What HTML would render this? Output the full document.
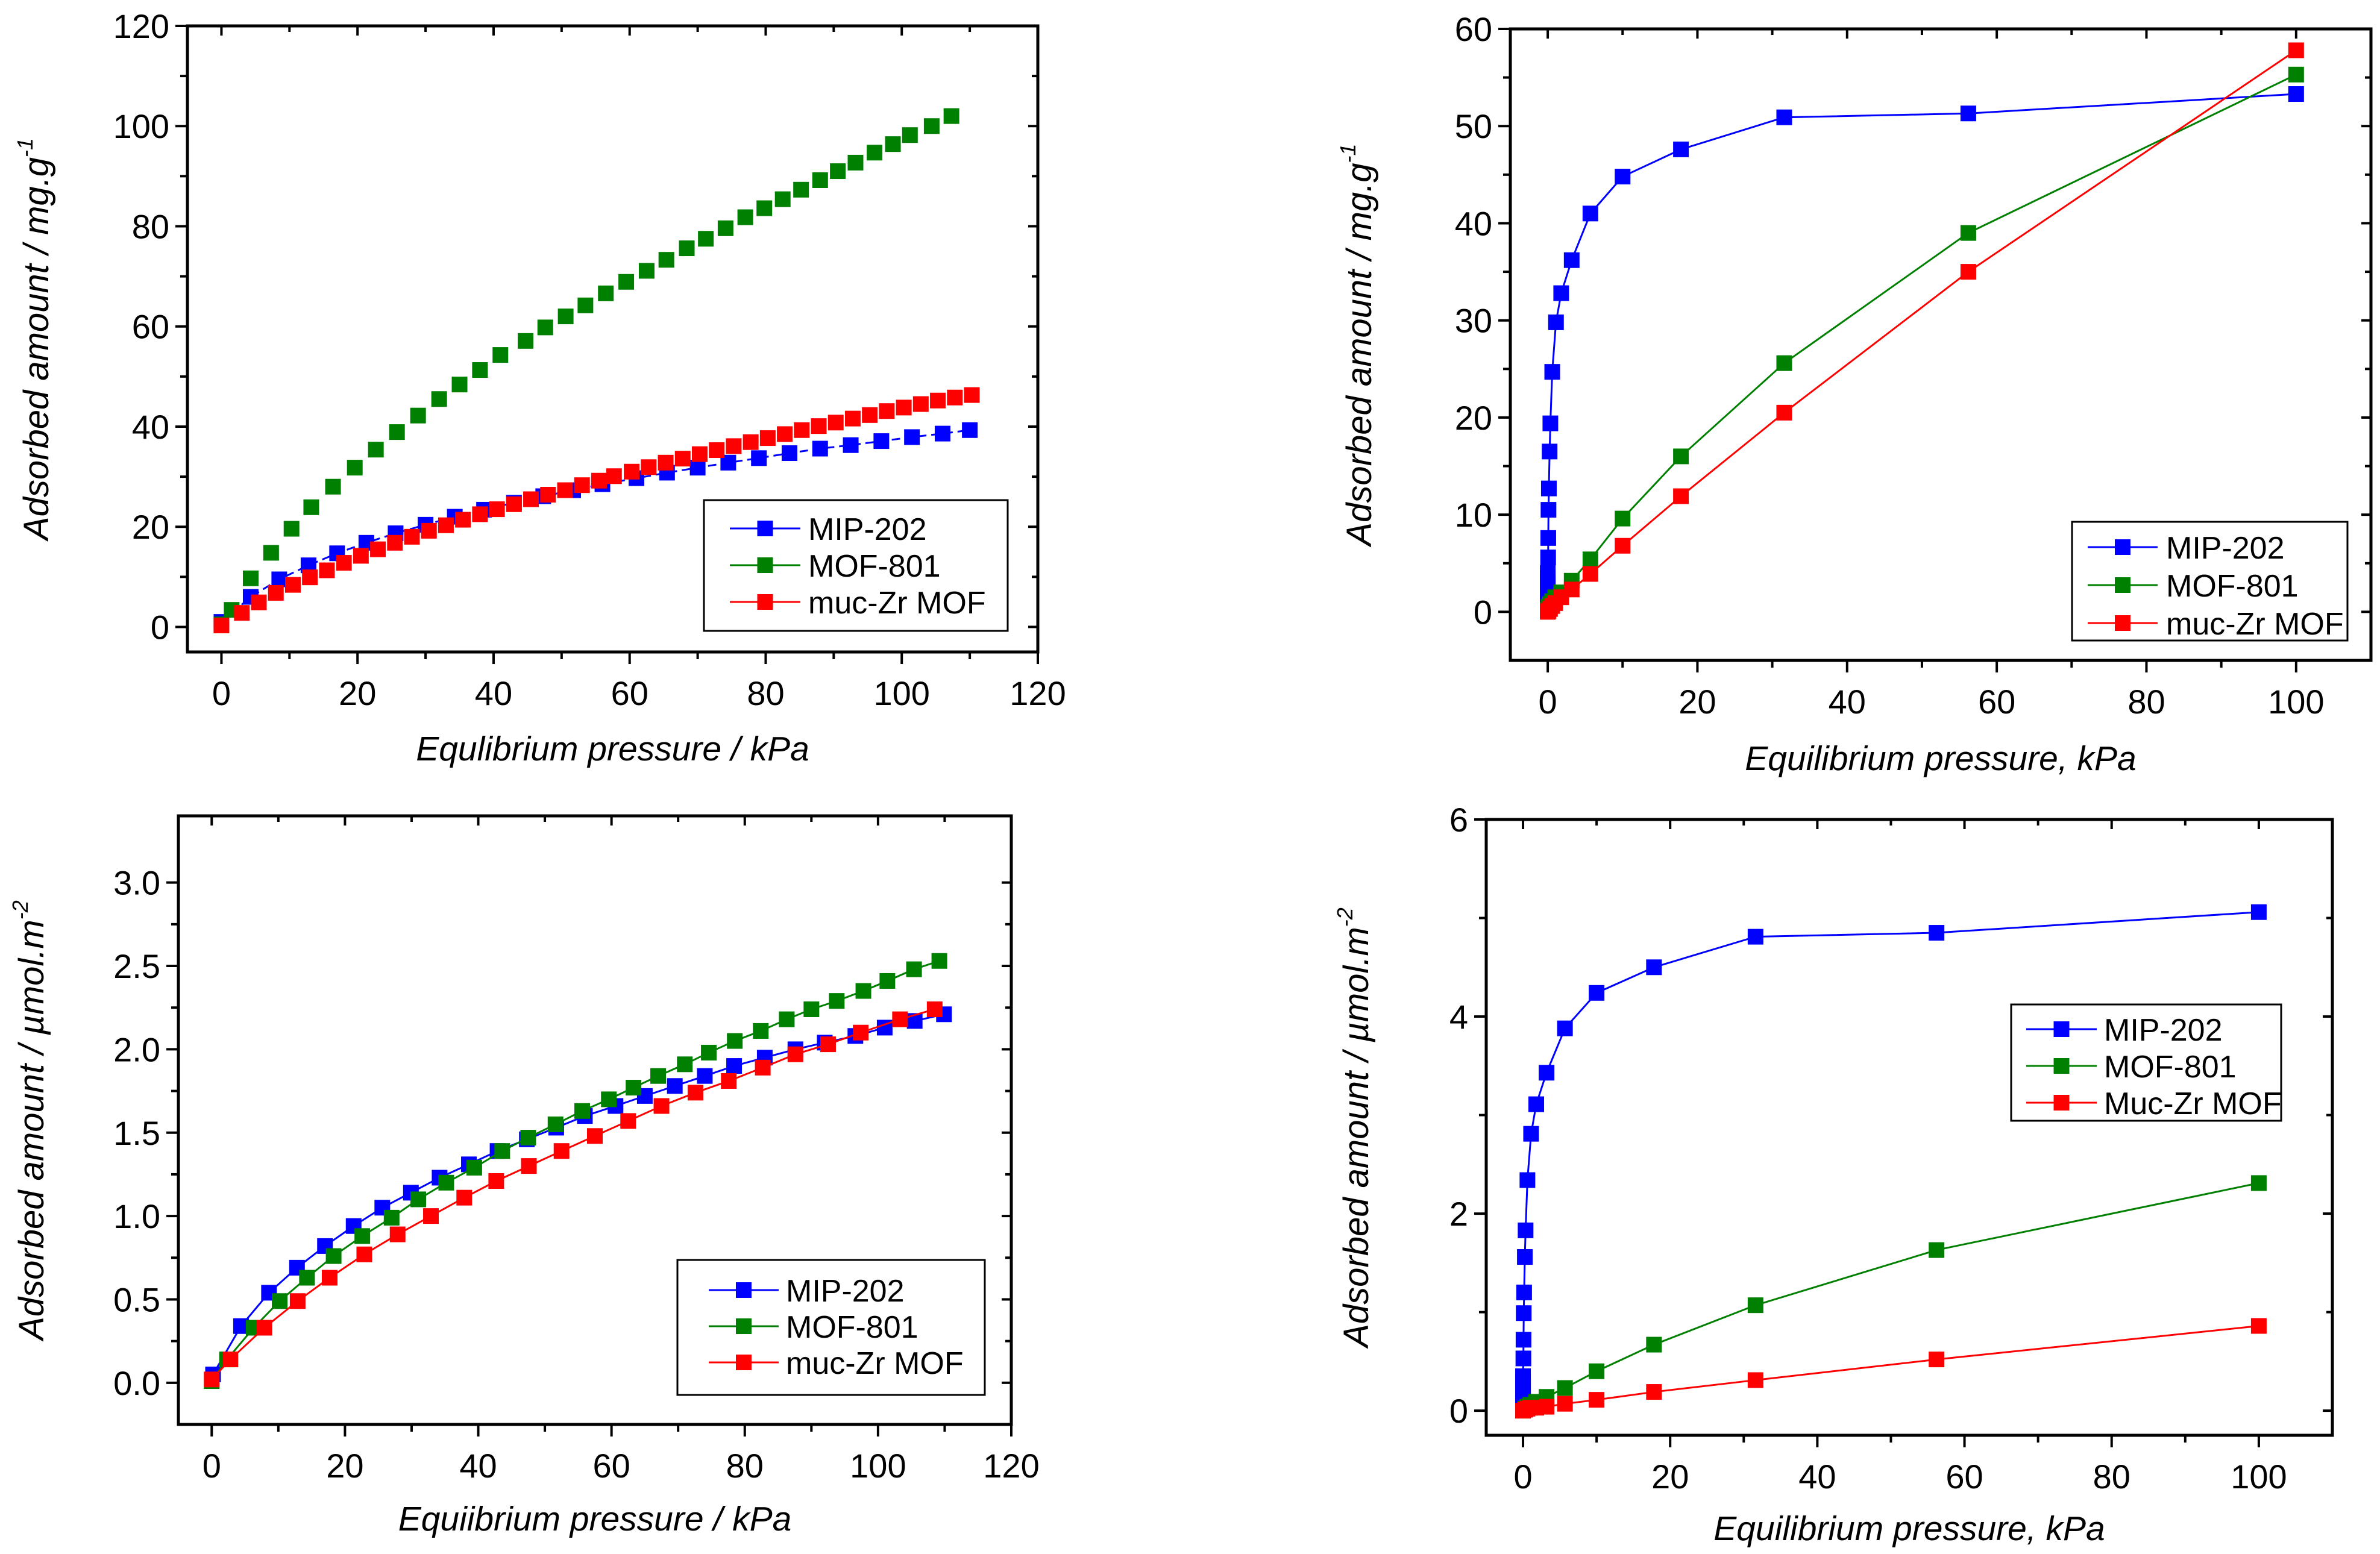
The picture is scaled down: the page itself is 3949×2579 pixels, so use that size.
<!DOCTYPE html>
<html><head><meta charset="utf-8"><style>
html,body{margin:0;padding:0;background:#fff}
svg{display:block}
text{font-family:"Liberation Sans",Arial,sans-serif;fill:#000}
</style></head><body>
<svg id="fig" xmlns="http://www.w3.org/2000/svg" width="3949" height="2579" viewBox="0 0 3949 2579"></svg>
<script>
// ---------- Panel A data (mg/g, linear) ----------
const aBlueX=[0,4.3,8.5,12.8,17,21.3,25.6,30,34.3,38.6,43,47.3,51.7,56,61,65.5,70,74.5,79,83.5,88,92.5,97,101.5,106,110];
const aBlueY=[1,6,9.5,12.3,14.7,16.8,18.7,20.4,22,23.4,24.8,26.1,27.3,28.5,29.7,30.8,31.8,32.8,33.7,34.7,35.6,36.3,37.1,37.9,38.6,39.3];
const aGreenX=[0,1.5,4.3,7.3,10.3,13.2,16.4,19.6,22.7,25.8,28.9,32,35,38,41,44.7,47.6,50.6,53.5,56.5,59.5,62.5,65.4,68.4,71.2,74.1,77,79.8,82.5,85.2,88,90.6,93.2,96,98.7,101.2,104.4,107.3];
const aGreenY=[0.5,3.4,9.7,14.8,19.6,23.9,28,31.8,35.4,38.9,42.2,45.5,48.4,51.3,54.3,57.1,59.8,62,64.2,66.6,68.9,71.1,73.3,75.6,77.5,79.6,81.8,83.6,85.4,87.3,89.2,91,92.7,94.7,96.4,98.2,100,102];
const aRedX=[0,3,5.5,8,10.5,13,15.5,18,20.5,23,25.5,28,30.5,33,35.5,38,40.5,43,45.5,48,50.5,53,55.5,57.7,60.3,62.8,65.3,67.8,70.3,72.8,75.3,77.8,80.3,82.8,85.3,87.8,90.3,92.8,95.3,97.8,100.3,102.8,105.3,107.8,110.3];
const aRedY=[0.3,2.8,4.9,6.8,8.4,9.9,11.3,12.8,14.2,15.5,16.8,18,19.2,20.3,21.4,22.5,23.5,24.5,25.5,26.4,27.3,28.3,29.2,30.1,31,31.9,32.8,33.6,34.5,35.3,36.1,36.9,37.7,38.5,39.3,40.1,40.8,41.6,42.3,43.1,43.8,44.5,45.2,45.8,46.3];
const aXTicks=[0,20,40,60,80,100,120];
const aYTicks=[0,20,40,60,80,100,120];
// ---------- Panel B data (mg/g, isotherm) ----------
const bBlueX=[0,0,0,0,0,0,0,0,0,0.05,0.07,0.1,0.15,0.25,0.35,0.6,1.1,1.8,3.2,5.7,10,17.8,31.6,56.2,100];
const bBlueY=[0.2,0.5,1,1.5,2,2.5,3,3.5,4,5.6,7.6,10.5,12.7,16.5,19.4,24.7,29.8,32.8,36.2,41,44.8,47.6,50.9,51.3,53.3];
const bGreenX=[0,0.1,0.3,0.6,1,1.8,3.2,5.7,10,17.8,31.6,56.2,100];
const bGreenY=[0.2,0.5,0.8,1.1,1.5,2,3.2,5.4,9.6,16,25.6,39,55.3];
const bRedX=[0,0.1,0.3,0.6,1,1.8,3.2,5.7,10,17.8,31.6,56.2,100];
const bRedY=[0,0.1,0.3,0.6,0.9,1.5,2.3,3.9,6.8,11.9,20.5,35,57.8];
const bXTicks=[0,20,40,60,80,100];
const bYTicks=[0,10,20,30,40,50,60];
// ---------- Panel C data (umol/m2, linear) ----------
const cBlueX=[0.2,4.4,8.6,12.8,17,21.3,25.6,29.9,34.2,38.6,42.9,47.3,51.7,56,60.6,65,69.5,74,78.4,83,87.6,92,96.6,101,105.5,109.9];
const cBlueY=[0.05,0.34,0.54,0.69,0.82,0.94,1.05,1.14,1.23,1.31,1.39,1.46,1.53,1.6,1.66,1.72,1.78,1.84,1.9,1.95,2,2.04,2.08,2.13,2.17,2.21];
const cGreenX=[0,2.3,6.3,10.2,14.3,18.3,22.6,27,31,35.2,39.4,43.6,47.5,51.6,55.6,59.6,63.3,67,71,74.6,78.5,82.4,86.3,90,93.8,97.8,101.4,105.4,109.2];
const cGreenY=[0.01,0.14,0.33,0.49,0.63,0.76,0.88,0.99,1.1,1.2,1.29,1.39,1.47,1.55,1.63,1.7,1.77,1.84,1.91,1.98,2.05,2.11,2.18,2.24,2.29,2.35,2.41,2.48,2.53];
const cRedX=[0,2.8,7.9,12.9,17.7,22.9,27.9,32.9,37.9,42.7,47.6,52.5,57.5,62.5,67.5,72.6,77.6,82.7,87.6,92.5,97.4,103.3,108.5];
const cRedY=[0.02,0.14,0.33,0.49,0.63,0.77,0.89,1,1.11,1.21,1.3,1.39,1.48,1.57,1.66,1.74,1.81,1.89,1.97,2.03,2.1,2.18,2.24];
const cXTicks=[0,20,40,60,80,100,120];
const cYTicks=[0,0.5,1,1.5,2,2.5,3];
const cYLabels=["0.0","0.5","1.0","1.5","2.0","2.5","3.0"];
// ---------- Panel D data (umol/m2, isotherm) ----------
const dBlueX=[0,0,0,0,0,0,0,0,0.05,0.07,0.1,0.15,0.25,0.35,0.6,1.1,1.8,3.2,5.7,10,17.8,31.6,56.2,100];
const dBlueY=[0.02,0.05,0.1,0.15,0.2,0.25,0.3,0.35,0.53,0.72,0.99,1.2,1.56,1.83,2.34,2.81,3.11,3.43,3.88,4.24,4.5,4.81,4.85,5.06];
const dGreenX=[0,0.3,0.6,1,1.8,3.2,5.7,10,17.8,31.6,56.2,100];
const dGreenY=[0,0.02,0.04,0.06,0.09,0.14,0.23,0.4,0.67,1.07,1.63,2.31];
const dRedX=[0,0.3,0.6,1,1.8,3.2,5.7,10,17.8,31.6,56.2,100];
const dRedY=[0,0.01,0.02,0.03,0.03,0.04,0.07,0.11,0.19,0.31,0.52,0.86];
const dXTicks=[0,20,40,60,80,100];
const dYTicks=[0,2,4,6];

const NS="http://www.w3.org/2000/svg";
const svg=document.getElementById('fig');
function mk(tag,attrs,parent){const e=document.createElementNS(NS,tag);for(const k in attrs)e.setAttribute(k,attrs[k]);(parent||svg).appendChild(e);return e;}
const COL={blue:"#0000ff",green:"#008000",red:"#ff0000"};

function panel(p){
  const g=mk('g',{});
  
  
  const sx=v=>p.L+(v-p.xmin)/(p.xmax-p.xmin)*(p.R-p.L);
  const sy=v=>p.B-(v-p.ymin)/(p.ymax-p.ymin)*(p.B-p.T);
  const fr=mk('rect',{x:p.L,y:p.T,width:p.R-p.L,height:p.B-p.T,fill:'none',stroke:'#000','stroke-width':5},g);
  
  
  p.xt.forEach((v,i)=>{
    const x=sx(v);
    const t=mk('line',{x1:x,y1:p.B,x2:x,y2:p.B+20,stroke:'#000','stroke-width':4},g);
    
    
    mk('line',{x1:x,y1:p.T,x2:x,y2:p.T+16,stroke:'#000','stroke-width':4},g);
    const lb=mk('text',{x:x,y:p.B+88,'font-size':56,'text-anchor':'middle'},g);
    lb.textContent=String(v);
    
    
    if(i<p.xt.length-1){
      const mx=sx((v+p.xt[i+1])/2);
      mk('line',{x1:mx,y1:p.B,x2:mx,y2:p.B+12,stroke:'#000','stroke-width':4},g);
      mk('line',{x1:mx,y1:p.T,x2:mx,y2:p.T+10,stroke:'#000','stroke-width':4},g);
    }
  });
  p.yt.forEach((v,i)=>{
    const y=sy(v);
    const t=mk('line',{x1:p.L-20,y1:y,x2:p.L,y2:y,stroke:'#000','stroke-width':4},g);
    
    
    mk('line',{x1:p.R-16,y1:y,x2:p.R,y2:y,stroke:'#000','stroke-width':4},g);
    const lb=mk('text',{x:p.L-30,y:y+20,'font-size':56,'text-anchor':'end'},g);
    lb.textContent=p.yl?p.yl[i]:String(v);
    
    
    if(i<p.yt.length-1){
      const my=sy((v+p.yt[i+1])/2);
      mk('line',{x1:p.L-12,y1:my,x2:p.L,y2:my,stroke:'#000','stroke-width':4},g);
      mk('line',{x1:p.R-10,y1:my,x2:p.R,y2:my,stroke:'#000','stroke-width':4},g);
    }
  });
  const xt=mk('text',{x:(p.L+p.R)/2,y:p.xtY,'font-size':57,'font-style':'italic','text-anchor':'middle'},g);
  xt.textContent=p.xtitle;
  
  
  const yt=mk('text',{x:0,y:0,'font-size':58,'font-style':'italic','text-anchor':'middle',transform:`translate(${p.ytX},${(p.T+p.B)/2}) rotate(-90)`},g);
  
  
  const t1=mk('tspan',{},yt);t1.textContent=p.ytitle;
  const t2=mk('tspan',{dy:-26,'font-size':36},yt);t2.textContent=p.ysup;
  p.series.forEach(s=>{
    const sg=mk('g',{},g);
    
    
    if(s.line){
      const pts=s.x.map((v,i)=>sx(v)+','+sy(s.y[i])).join(' ');
      const pl=mk('polyline',{points:pts,fill:'none',stroke:COL[s.c],'stroke-width':3,'stroke-dasharray':s.dash||'none'},sg);
      
      
    }
    s.x.forEach((v,i)=>{
      const r=mk('rect',{x:sx(v)-13,y:sy(s.y[i])-13,width:26,height:26,fill:COL[s.c]},sg);
      
      
    });
  });
  const lg=mk('g',{},g);
  
  
  mk('rect',{x:p.lg[0],y:p.lg[1],width:p.lg[2],height:p.lg[3],fill:'#fff',stroke:'#000','stroke-width':3},lg);
  const lx=p.lgX||[40,158,172];
  p.series.forEach((s,i)=>{
    const y=p.lg[1]+p.lgOff+p.lgStep*i;
    const e=mk('g',{},lg);
    
    
    mk('line',{x1:p.lg[0]+lx[0],y1:y,x2:p.lg[0]+lx[1],y2:y,stroke:COL[s.c],'stroke-width':3},e);
    mk('rect',{x:p.lg[0]+(lx[0]+lx[1])/2-13,y:y-13,width:26,height:26,fill:COL[s.c]},e);
    const tx=mk('text',{x:p.lg[0]+lx[2],y:y+19,'font-size':52},e);
    tx.textContent=s.label;
  });
}

panel({name:'panel-a-mg-linear',L:311,R:1722,T:43,B:1082,xmin:-5,xmax:120,ymin:-5,ymax:120,
  xt:aXTicks,yt:aYTicks,xtitle:'Equlibrium pressure / kPa',xtY:1262,ytitle:'Adsorbed amount / mg.g',ysup:'-1',ytX:80,
  lg:[1168,830,504,217],lgOff:47,lgStep:61,lgX:[43,160,173],
  series:[{key:'mip-202',c:'blue',x:aBlueX,y:aBlueY,line:true,dash:'14,8',label:'MIP-202'},
          {key:'mof-801',c:'green',x:aGreenX,y:aGreenY,line:false,label:'MOF-801'},
          {key:'muc-zr-mof',c:'red',x:aRedX,y:aRedY,line:false,label:'muc-Zr MOF'}]});

panel({name:'panel-b-mg-isotherm',L:2506,R:3934,T:48,B:1096,xmin:-5,xmax:110,ymin:-5,ymax:60,
  xt:bXTicks,yt:bYTicks,xtitle:'Equilibrium pressure, kPa',xtY:1278,ytitle:'Adsorbed amount / mg.g',ysup:'-1',ytX:2275,
  lg:[3438,866,457,197],lgOff:42,lgStep:63,lgX:[26,142,156],
  series:[{key:'mip-202',c:'blue',x:bBlueX,y:bBlueY,line:true,label:'MIP-202'},
          {key:'mof-801',c:'green',x:bGreenX,y:bGreenY,line:true,label:'MOF-801'},
          {key:'muc-zr-mof',c:'red',x:bRedX,y:bRedY,line:true,label:'muc-Zr MOF'}]});

panel({name:'panel-c-umol-linear',L:296,R:1678,T:1354,B:2364,xmin:-5,xmax:120,ymin:-0.25,ymax:3.4,
  xt:cXTicks,yt:cYTicks,yl:cYLabels,xtitle:'Equiibrium pressure / kPa',xtY:2540,ytitle:'Adsorbed amount / \u00b5mol.m',ysup:'-2',ytX:72,
  lg:[1124,2091,510,224],lgOff:50,lgStep:60,lgX:[52,168,180],
  series:[{key:'mip-202',c:'blue',x:cBlueX,y:cBlueY,line:true,label:'MIP-202'},
          {key:'mof-801',c:'green',x:cGreenX,y:cGreenY,line:true,label:'MOF-801'},
          {key:'muc-zr-mof',c:'red',x:cRedX,y:cRedY,line:true,label:'muc-Zr MOF'}]});

panel({name:'panel-d-umol-isotherm',L:2466,R:3870,T:1360,B:2382,xmin:-5,xmax:110,ymin:-0.25,ymax:6,
  xt:dXTicks,yt:dYTicks,xtitle:'Equilibrium pressure, kPa',xtY:2556,ytitle:'Adsorbed amount / \u00b5mol.m',ysup:'-2',ytX:2270,
  lg:[3337,1667,448,193],lgOff:41,lgStep:61,lgX:[25,142,154],
  series:[{key:'mip-202',c:'blue',x:dBlueX,y:dBlueY,line:true,label:'MIP-202'},
          {key:'mof-801',c:'green',x:dGreenX,y:dGreenY,line:true,label:'MOF-801'},
          {key:'muc-zr-mof',c:'red',x:dRedX,y:dRedY,line:true,label:'Muc-Zr MOF'}]});
</script>
</body></html>
